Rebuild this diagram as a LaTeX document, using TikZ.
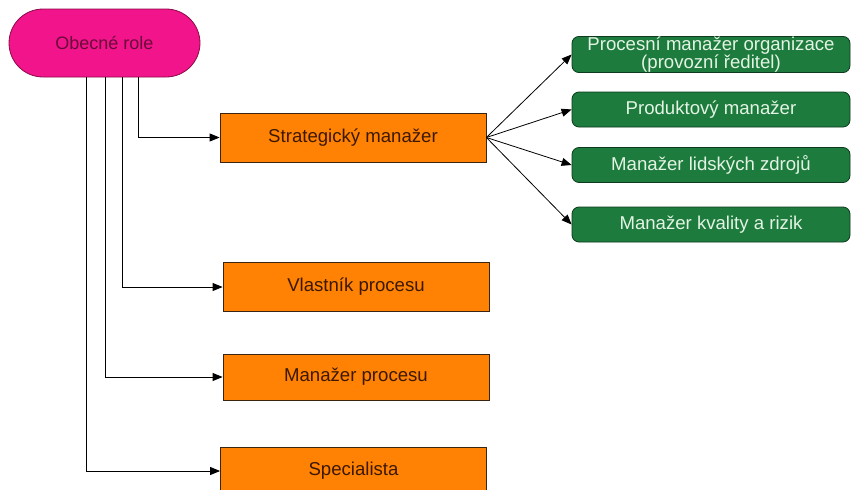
\documentclass[tikz,border=0pt]{standalone}
\usepackage{fontspec}
\setmainfont{Liberation Sans}
\usetikzlibrary{arrows.meta}

\definecolor{rolefill}{HTML}{F2148A}
\definecolor{roledraw}{HTML}{8A0A48}
\definecolor{roletext}{HTML}{6A0A3A}
\definecolor{orangefill}{HTML}{FF8205}
\definecolor{orangedraw}{HTML}{3A2412}
\definecolor{orangetext}{HTML}{3C1800}
\definecolor{greenfill}{HTML}{1D7B3D}
\definecolor{greendraw}{HTML}{0E3A1E}
\definecolor{greentext}{HTML}{E4F4E4}

\tikzset{
  rolebox/.style={draw=roledraw, fill=rolefill, line width=0.8pt,
    rounded corners=34pt, minimum width=191pt, minimum height=68pt,
    inner sep=0pt, text=roletext, font=\fontsize{18}{18}\selectfont},
  orangebox/.style={draw=orangedraw, fill=orangefill, line width=0.8pt,
    minimum width=266pt, minimum height=49pt, inner sep=0pt,
    text=orangetext, font=\fontsize{18.6}{18}\selectfont},
  greenbox/.style={draw=greendraw, fill=greenfill, line width=0.8pt,
    rounded corners=7pt, minimum width=278pt, minimum height=35pt,
    inner sep=0pt, align=center, text=greentext,
    font=\fontsize{18.6}{15.5}\selectfont},
  link/.style={-{Triangle[length=10pt,width=8pt]}, line width=0.8pt, black}
}

\begin{document}
\begin{tikzpicture}[x=1pt,y=-1pt]
  \useasboundingbox (0,0) rectangle (852,490);
  \clip (0,0) rectangle (852,490);

  % root role
  \node[rolebox] (role) at (104.5,43) {Obecné role};

  % general roles
  \node[orangebox] (strat) at (353,137.5) {Strategický manažer};
  \node[orangebox] (owner) at (356,287) {Vlastník procesu};
  \node[orangebox, minimum height=46pt] (pman) at (356,377) {Manažer procesu};
  \node[orangebox, minimum height=48pt] (spec) at (353.5,471) {Specialista};

  % strategic sub-roles
  \node[greenbox] (g1) at (711,54.5) {Procesní manažer organizace\\(provozní ředitel)};
  \node[greenbox] (g2) at (711,109.5) {Produktový manažer};
  \node[greenbox] (g3) at (711,165) {Manažer lidských zdrojů};
  \node[greenbox] (g4) at (711,224.5) {Manažer kvality a rizik};

  % connectors from the root
  \draw[link] ([xshift=33.5pt]role.south) |- (strat);
  \draw[link] ([xshift=17.5pt]role.south) |- (owner);
  \draw[link] ([xshift=0.5pt]role.south) |- (pman);
  \draw[link] ([xshift=-18.5pt]role.south) |- (spec);

  % fan-out from the strategic manager
  \draw[link] (strat.east) -- (g1.west);
  \draw[link] (strat.east) -- (g2.west);
  \draw[link] (strat.east) -- (g3.west);
  \draw[link] (strat.east) -- (g4.west);
\end{tikzpicture}
\end{document}
